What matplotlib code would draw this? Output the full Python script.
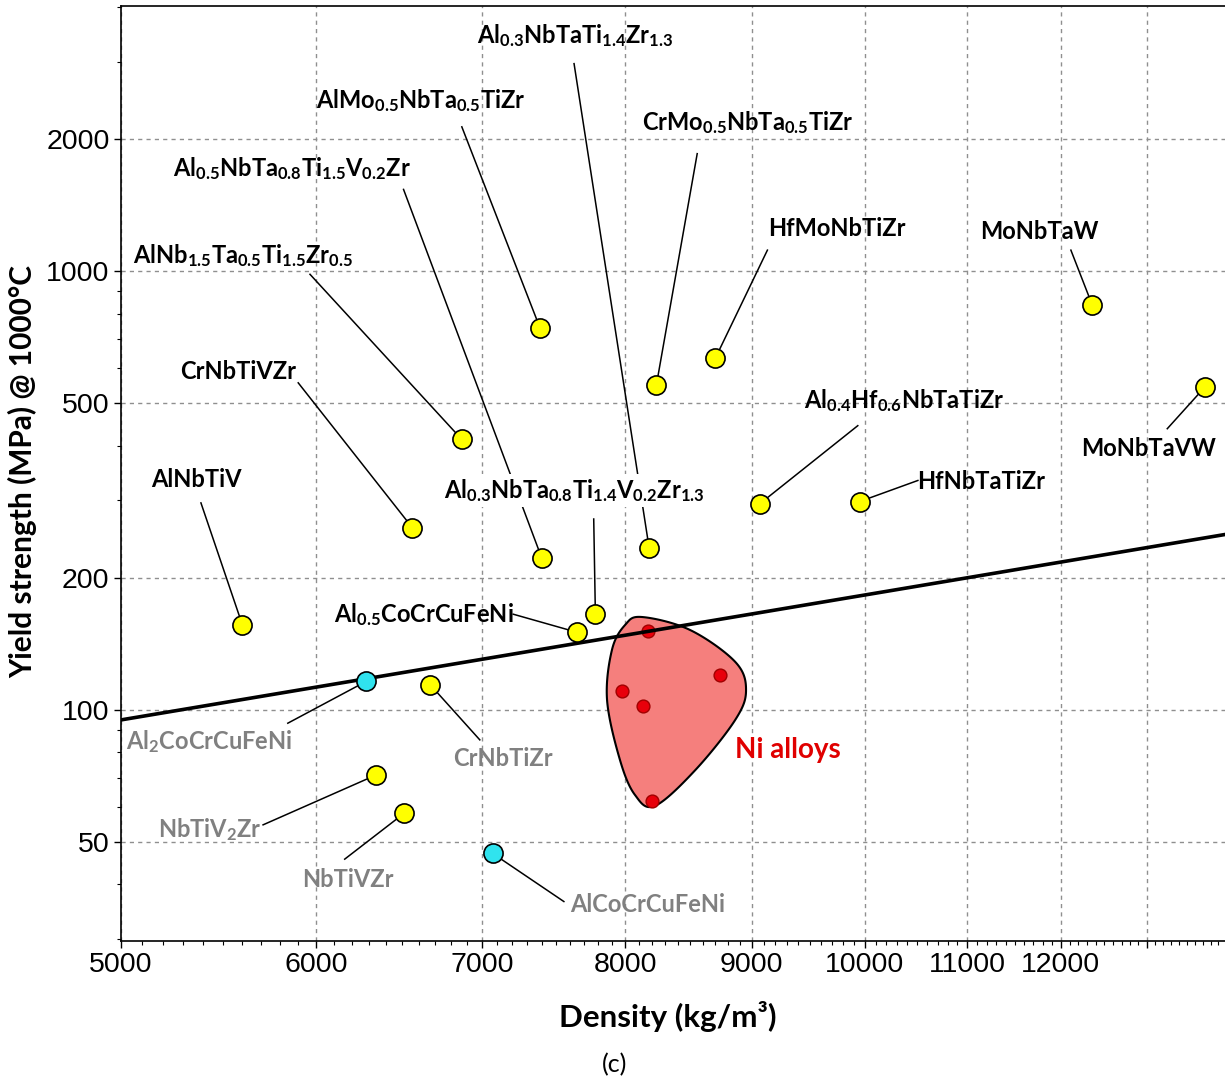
import numpy as np
import matplotlib.pyplot as plt
from matplotlib.ticker import FixedLocator, FixedFormatter, NullFormatter
from matplotlib.patches import Polygon

plt.rcParams['font.family'] = ['Lato', 'DejaVu Sans']
plt.rcParams['mathtext.fontset'] = 'custom'
plt.rcParams['mathtext.default'] = 'regular'

# high entropy alloys: density (kg/m3) and yield strength at 1000 C (MPa)
hea_names = ['AlNbTiV', 'CrNbTiVZr',
             r'AlNb$_{1.5}$Ta$_{0.5}$Ti$_{1.5}$Zr$_{0.5}$',
             r'AlMo$_{0.5}$NbTa$_{0.5}$TiZr',
             r'Al$_{0.5}$NbTa$_{0.8}$Ti$_{1.5}$V$_{0.2}$Zr',
             r'Al$_{0.3}$NbTaTi$_{1.4}$Zr$_{1.3}$',
             r'Al$_{0.3}$NbTa$_{0.8}$Ti$_{1.4}$V$_{0.2}$Zr$_{1.3}$',
             r'Al$_{0.5}$CoCrCuFeNi',
             r'CrMo$_{0.5}$NbTa$_{0.5}$TiZr',
             'HfMoNbTiZr', 'MoNbTaW', 'MoNbTaVW',
             r'Al$_{0.4}$Hf$_{0.6}$NbTaTiZr', 'HfNbTaTiZr',
             'CrNbTiZr', r'NbTiV$_2$Zr', 'NbTiVZr']
hea_density = [5600, 6560, 6870, 7390, 7400, 8180, 7780, 7650, 8235,
               8700, 12360, 13730, 9070, 9950, 6670, 6345, 6510]
hea_strength = [156, 260, 413, 740, 222, 233, 165, 150, 550,
                633, 835, 545, 295, 298, 114, 71, 58]

# CoCrCuFeNi type alloys (cyan)
cu_names = [r'Al$_2$CoCrCuFeNi', 'AlCoCrCuFeNi']
cu_density = [6285, 7070]
cu_strength = [116, 47]

# Ni superalloys
ni_density = [8170, 8740, 7975, 8130, 8200]
ni_strength = [151, 120, 110, 102, 62]

# guide line
line_density = [5000, 14000]
line_strength = [94.7, 251]

# label layout: text position (x, baseline), leader start, colour
labels = {
    'AlNbTiV': (5363, 321, 5388, 296, 'k'),
    'CrNbTiVZr': (5577, 566, 5899, 556, 'k'),
    r'AlNb$_{1.5}$Ta$_{0.5}$Ti$_{1.5}$Zr$_{0.5}$': (5603, 1042, 5964, 983, 'k'),
    r'AlMo$_{0.5}$NbTa$_{0.5}$TiZr': (6613, 2354, 6870, 2132, 'k'),
    r'Al$_{0.5}$NbTa$_{0.8}$Ti$_{1.5}$V$_{0.2}$Zr': (5867, 1650, 6507, 1535, 'k'),
    r'Al$_{0.3}$NbTaTi$_{1.4}$Zr$_{1.3}$': (7634, 3310, 7627, 2971, 'k'),
    r'Al$_{0.3}$NbTa$_{0.8}$Ti$_{1.4}$V$_{0.2}$Zr$_{1.3}$': (7631, 304, 7768, 272, 'k'),
    r'Al$_{0.5}$CoCrCuFeNi': (6632, 158.6, 7207, 165, 'k'),
    r'CrMo$_{0.5}$NbTa$_{0.5}$TiZr': (8968, 2097, 8554, 1852, 'k'),
    'HfMoNbTiZr': (9745, 1204, 9132, 1116, 'k'),
    'MoNbTaW': (11761, 1186, 12115, 1116, 'k'),
    'MoNbTaVW': (13028, 378, 13253, 437, 'k'),
    r'Al$_{0.4}$Hf$_{0.6}$NbTaTiZr': (10369, 487, 9934, 444, 'k'),
    'HfNbTaTiZr': (11142, 319, 10506, 333, 'k'),
    'CrNbTiZr': (7138, 74.4, 6986, 85.3, '#808080'),
    r'NbTiV$_2$Zr': (5432, 51.3, 5709, 54.6, '#808080'),
    'NbTiVZr': (6179, 39.3, 6160, 45.6, '#808080'),
    r'Al$_2$CoCrCuFeNi': (5429, 81.2, 5842, 93.1, '#808080'),
    'AlCoCrCuFeNi': (8166, 34.6, 7555, 36.5, '#808080'),
}

# hand drawn envelope around the Ni alloys
region_x = [8124, 8497, 8862, 8952, 8862, 8539, 8223, 8072, 7960, 7865, 7901, 7998]
region_y = [162.6, 151.9, 128.5, 110.8, 94.7, 72.8, 60.3, 63.9, 76.8, 105.2, 136.8, 155.9]


def closed_spline(xs, ys, n=24):
    # Catmull-Rom through the envelope points, done in log space
    P = np.column_stack([np.log10(xs), np.log10(ys)])
    m = len(P)
    t = np.linspace(0, 1, n, endpoint=False)[:, None]
    pts = []
    for i in range(m):
        p0, p1, p2, p3 = P[i - 1], P[i], P[(i + 1) % m], P[(i + 2) % m]
        pts.append(0.5 * (2 * p1 + (-p0 + p2) * t + (2 * p0 - 5 * p1 + 4 * p2 - p3) * t ** 2
                          + (-p0 + 3 * p1 - 3 * p2 + p3) * t ** 3))
    return 10 ** np.vstack(pts)


fig = plt.figure(figsize=(12.25, 10.84), dpi=100)
ax = fig.add_axes([120.7 / 1225, 1 - 941 / 1084, 1 - 120.7 / 1225, 935 / 1084])
ax.set_xscale('log')
ax.set_yscale('log')
ax.set_xlim(5000, 13985)
ax.set_ylim(29.67, 4021)

xmaj = [5000, 6000, 7000, 8000, 9000, 10000, 11000, 12000, 13000]
ax.xaxis.set_major_locator(FixedLocator(xmaj))
ax.xaxis.set_major_formatter(FixedFormatter([str(v) for v in xmaj[:-1]] + ['']))
ax.xaxis.set_minor_locator(FixedLocator([v for v in range(5000, 14000, 100) if v % 1000]))
ax.xaxis.set_minor_formatter(NullFormatter())
ymaj = [50, 100, 200, 500, 1000, 2000]
ax.yaxis.set_major_locator(FixedLocator(ymaj))
ax.yaxis.set_major_formatter(FixedFormatter([str(v) for v in ymaj]))
ax.yaxis.set_minor_locator(FixedLocator([30, 40, 60, 70, 80, 90, 300, 400, 600, 700, 800, 900, 3000, 4000]))
ax.yaxis.set_minor_formatter(NullFormatter())

ax.tick_params(which='major', direction='out', length=5, width=1, labelsize=20.5, pad=3)
ax.tick_params(which='minor', direction='out', length=3, width=0.8)
for lab in ax.get_xticklabels() + ax.get_yticklabels():
    lab.set_fontfamily('Liberation Sans')
ax.spines['right'].set_visible(False)
for s in ['left', 'bottom', 'top']:
    ax.spines[s].set_linewidth(1.2)

ax.set_axisbelow(True)
ax.grid(True, which='major', ls=(0, (3, 3)), color='#8f8f8f', lw=1)

# Ni alloy envelope and points
env = closed_spline(region_x, region_y)
ax.add_patch(Polygon(env, closed=True, fc='#F57F7D', ec='black', lw=1.5, zorder=1))
ax.scatter(ni_density, ni_strength, s=85, c='#E8000B', edgecolors='#A00000', lw=1, zorder=2)

ax.plot(line_density, line_strength, color='black', lw=2.6, zorder=3)

# leaders and labels
all_names = hea_names + cu_names
all_d = hea_density + cu_density
all_s = hea_strength + cu_strength
for name, d, s in zip(all_names, all_d, all_s):
    tx, ty, lx, ly, col = labels[name]
    ax.plot([lx, d], [ly, s], color='black', lw=1.1, zorder=3.5)
    box = None
    if name.startswith(r'Al$_{0.3}$NbTa$_{0.8}$'):
        box = dict(fc='white', ec='none', pad=2)
    ax.text(tx, ty, name, ha='center', va='baseline', fontsize=17,
            fontweight='bold', color=col, zorder=4, bbox=box)

ax.scatter(hea_density, hea_strength, s=190, c='#FFFF00', edgecolors='black', lw=1.2, zorder=5)
ax.scatter(cu_density, cu_strength, s=190, c='#30E3EE', edgecolors='black', lw=1.2, zorder=5)

ax.text(9309, 77.5, 'Ni alloys', ha='center', va='baseline', fontsize=20,
        fontweight='bold', color='#E00000', zorder=4)

fig.text(23 / 1225, 1 - 471.5 / 1084, 'Yield strength (MPa) @ 1000°C', rotation=90,
         ha='center', va='center', fontsize=21.5, fontweight='bold')
fig.text(668 / 1225, 1 - 1016 / 1084, 'Density (kg/m³)', ha='center', va='center',
         fontsize=22.5, fontweight='bold')
fig.text(615 / 1225, 1 - 1065 / 1084, '(c)', ha='center', va='center', fontsize=18)

fig.savefig('out.png', dpi=100)
